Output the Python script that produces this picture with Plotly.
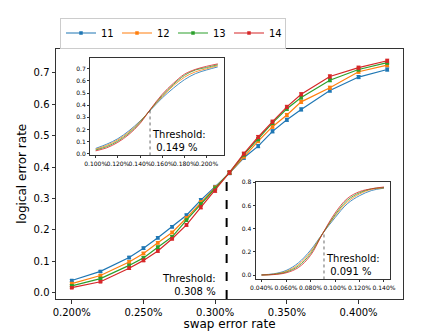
import plotly.graph_objs as go

# main panel: swap error rate (%) vs logical error rate
x_main = [0.20, 0.22, 0.24, 0.25, 0.26, 0.27, 0.28, 0.29, 0.30, 0.31,
          0.32, 0.33, 0.34, 0.35, 0.36, 0.38, 0.40, 0.42]
y_11 = [0.039, 0.068, 0.112, 0.142, 0.175, 0.210, 0.247, 0.295, 0.337, 0.381,
        0.430, 0.467, 0.514, 0.551, 0.584, 0.644, 0.687, 0.711]
y_12 = [0.029, 0.055, 0.098, 0.125, 0.159, 0.192, 0.238, 0.288, 0.335, 0.382,
        0.434, 0.483, 0.529, 0.566, 0.608, 0.653, 0.704, 0.725]
y_13 = [0.022, 0.045, 0.087, 0.111, 0.145, 0.178, 0.231, 0.282, 0.332, 0.383,
        0.440, 0.489, 0.541, 0.586, 0.622, 0.677, 0.711, 0.733]
y_14 = [0.016, 0.035, 0.078, 0.103, 0.133, 0.172, 0.216, 0.272, 0.325, 0.383,
        0.443, 0.496, 0.545, 0.592, 0.632, 0.689, 0.717, 0.739]
err_main = [0.003, 0.003, 0.004, 0.004, 0.004, 0.004, 0.004, 0.005, 0.005, 0.005,
            0.005, 0.005, 0.005, 0.005, 0.005, 0.005, 0.005, 0.005]

# upper-left inset
x_in1 = [0.10, 0.11, 0.12, 0.13, 0.14, 0.15, 0.16, 0.17, 0.18, 0.19, 0.20, 0.21]
in1_11 = [0.045, 0.080, 0.125, 0.190, 0.270, 0.365, 0.460, 0.540, 0.610, 0.660, 0.690, 0.715]
in1_12 = [0.038, 0.070, 0.115, 0.180, 0.265, 0.370, 0.470, 0.560, 0.630, 0.675, 0.700, 0.725]
in1_13 = [0.032, 0.060, 0.105, 0.170, 0.258, 0.372, 0.480, 0.570, 0.645, 0.690, 0.710, 0.733]
in1_14 = [0.025, 0.050, 0.095, 0.160, 0.250, 0.375, 0.490, 0.580, 0.655, 0.695, 0.720, 0.740]

# lower-right inset
x_in2 = [0.04, 0.05, 0.06, 0.07, 0.08, 0.09, 0.10, 0.11, 0.12, 0.13, 0.14]
in2_11 = [0.003, 0.012, 0.040, 0.105, 0.215, 0.360, 0.495, 0.615, 0.685, 0.730, 0.750]
in2_12 = [0.002, 0.009, 0.032, 0.090, 0.200, 0.360, 0.510, 0.630, 0.700, 0.740, 0.752]
in2_13 = [0.001, 0.007, 0.026, 0.078, 0.185, 0.360, 0.520, 0.645, 0.710, 0.745, 0.755]
in2_14 = [0.001, 0.005, 0.020, 0.065, 0.170, 0.360, 0.535, 0.660, 0.720, 0.745, 0.760]

names = ['11', '12', '13', '14']
colors = ['#1f77b4', '#ff7f0e', '#2ca02c', '#d62728']

thr_main, thr_main_y = 0.308, 0.374
thr_in1, thr_in1_y = 0.149, 0.365
thr_in2, thr_in2_y = 0.091, 0.355

xt_main = [0.20, 0.25, 0.30, 0.35, 0.40]
xt_in1 = [0.10, 0.12, 0.14, 0.16, 0.18, 0.20]
xt_in2 = [0.04, 0.06, 0.08, 0.10, 0.12, 0.14]

xr_main = [0.189, 0.431]
yr_main = [-0.02, 0.778]
xr_in1 = [0.0949, 0.2156]
yr_in1 = [-0.013, 0.786]
xr_in2 = [0.0351, 0.1449]
yr_in2 = [-0.037, 0.805]

# page body has an 8px margin, so the figure is made 8px smaller
W, H = 440, 328


def pct(vals):
    return ['%.3f%%' % v for v in vals]


fig = go.Figure()

for name, c, ys in zip(names, colors, [y_11, y_12, y_13, y_14]):
    fig.add_trace(go.Scatter(x=x_main, y=ys, name=name, mode='lines+markers',
                             line=dict(color=c, width=1.2),
                             marker=dict(symbol='square', size=3.5, color=c),
                             error_y=dict(type='data', array=err_main, color=c,
                                          thickness=1, width=2)))

for c, ys in zip(colors, [in1_11, in1_12, in1_13, in1_14]):
    fig.add_trace(go.Scatter(x=x_in1, y=ys, mode='lines', showlegend=False,
                             line=dict(color=c, width=1, shape='spline'),
                             opacity=0.8, xaxis='x2', yaxis='y2'))

for c, ys in zip(colors, [in2_11, in2_12, in2_13, in2_14]):
    fig.add_trace(go.Scatter(x=x_in2, y=ys, mode='lines', showlegend=False,
                             line=dict(color=c, width=1, shape='spline'),
                             opacity=0.8, xaxis='x3', yaxis='y3'))

axcol = '#333333'
common = dict(showline=True, mirror=True, linecolor=axcol, linewidth=1,
              ticks='outside', tickcolor=axcol, showgrid=False, zeroline=False,
              automargin=False)

fig.update_layout(
    width=W, height=H,
    margin=dict(l=48, r=45, t=32, b=37),
    paper_bgcolor='white', plot_bgcolor='white',
    font=dict(family='DejaVu Sans', size=10, color='black'),
    xaxis=dict(range=xr_main, tickvals=xt_main, ticktext=pct(xt_main), ticklen=3.5,
               title=dict(text='swap error rate', standoff=3), **common),
    yaxis=dict(range=yr_main, dtick=0.1, tickformat='.1f', ticklen=3.5,
               title=dict(text='logical error rate', standoff=4), **common),
    xaxis2=dict(domain=[0.098, 0.484], anchor='y2', range=xr_in1,
                tickvals=xt_in1, ticktext=pct(xt_in1), ticklen=2, tickangle=0,
                tickfont=dict(size=6), **common),
    yaxis2=dict(domain=[0.573, 0.961], anchor='x2', range=yr_in1, dtick=0.1,
                tickformat='.1f', ticklen=2, tickfont=dict(size=6), **common),
    xaxis3=dict(domain=[0.575, 0.9625], anchor='y3', range=xr_in2,
                tickvals=xt_in2, ticktext=pct(xt_in2), ticklen=2, tickangle=0,
                tickfont=dict(size=6), **common),
    yaxis3=dict(domain=[0.078, 0.468], anchor='x3', range=yr_in2, dtick=0.2,
                tickformat='.1f', ticklen=2, tickfont=dict(size=6), **common),
    legend=dict(orientation='h', xref='container', yref='container',
                x=52 / W, y=1 - 25 / H, xanchor='left', yanchor='middle',
                bordercolor='#cccccc', borderwidth=1, font=dict(size=10),
                bgcolor='white', itemwidth=30, entrywidth=11),
    showlegend=True,
)

# threshold markers
fig.add_shape(type='line', xref='x', yref='y', x0=thr_main, x1=thr_main,
              y0=yr_main[0], y1=thr_main_y, line=dict(color='black', width=2, dash='dash'))
fig.add_shape(type='line', xref='x2', yref='y2', x0=thr_in1, x1=thr_in1,
              y0=yr_in1[0], y1=thr_in1_y, line=dict(color='#444444', width=0.8, dash='dot'))
fig.add_shape(type='line', xref='x3', yref='y3', x0=thr_in2, x1=thr_in2,
              y0=yr_in2[0], y1=thr_in2_y, line=dict(color='#444444', width=0.8, dash='dot'))

fig.add_annotation(x=thr_main - 0.006, y=yr_main[0], xref='x', yref='y',
                   text='Threshold:<br>%.3f %%' % thr_main, showarrow=False,
                   xanchor='right', yanchor='bottom', align='right',
                   font=dict(size=10))
fig.add_annotation(x=thr_in1, y=yr_in1[0], xref='x2', yref='y2',
                   text='Threshold:<br> %.3f %%' % thr_in1, showarrow=False,
                   xanchor='left', yanchor='bottom', align='left',
                   font=dict(size=10))
fig.add_annotation(x=thr_in2, y=yr_in2[0], xref='x3', yref='y3',
                   text='Threshold:<br> %.3f %%' % thr_in2, showarrow=False,
                   xanchor='left', yanchor='bottom', align='left',
                   font=dict(size=10))

fig.write_html('out.html')
